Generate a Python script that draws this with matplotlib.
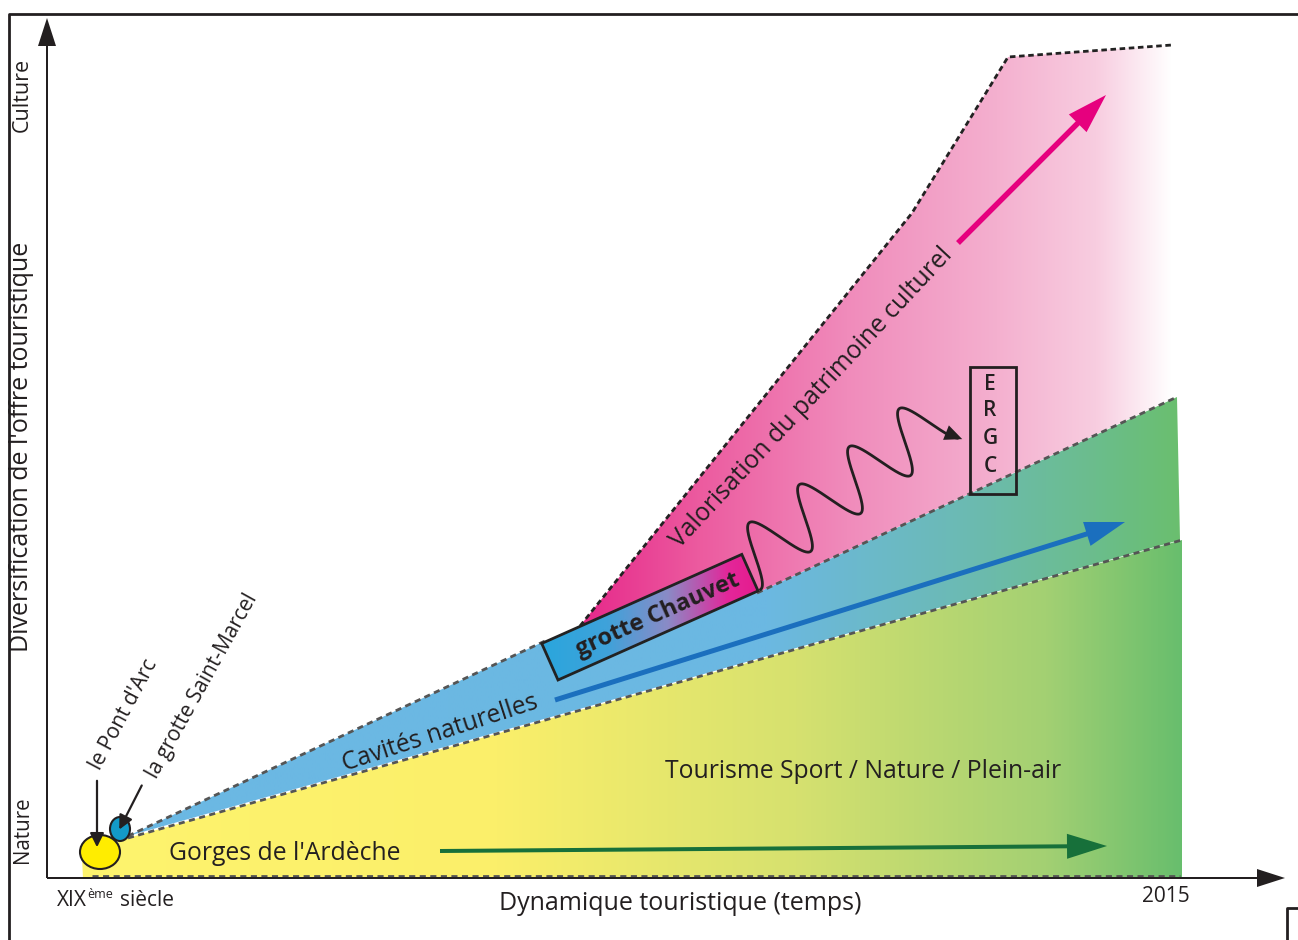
import numpy as np
import matplotlib.pyplot as plt
from matplotlib.patches import Polygon, Rectangle, Ellipse, FancyArrow
from matplotlib.colors import to_rgb

plt.rcParams['font.family'] = ['Open Sans', 'DejaVu Sans']

# --- zones (x = dynamique touristique, y = diversification) ---
nature_x = [81, 1135, 1135, 36, 35]
nature_y = [40, 338, 0, 0, 20]
cavites_x = [81, 498, 710, 1130, 1133]
cavites_y = [42, 237, 285, 481, 338]
culture_x = [533, 865, 961, 1125, 1125, 710]
culture_y = [252, 665, 821, 833, 479, 285]

# zone limits (dashed lines)
lower_x, lower_y = [81, 1135], [40, 338]
middle1_x, middle1_y = [81, 498], [42, 237]
middle2_x, middle2_y = [710, 1130], [285, 481]
upper_x, upper_y = [533, 865, 961, 1125], [252, 665, 821, 833]
base_x, base_y = [45, 1133], [2, 2]

# colour stops along time axis
nature_stops = [(35, '#fef46e'), (450, '#fbef6a'), (750, '#d6e16f'), (1000, '#a3d073'), (1135, '#68be6d')]
cavites_stops = [(81, '#6bb8e4'), (720, '#6bb8e2'), (900, '#6cbab8'), (1050, '#6bbd8c'), (1135, '#6abf6e')]
culture_stops = [(533, '#e6288a'), (650, '#ec5a9f'), (800, '#f08bbb'), (950, '#f4b0cf'), (1050, '#f8cde0'), (1125, '#ffffff')]
chauvet_stops = [(495, '#2aa6dd'), (560, '#3fa2da'), (620, '#8a8bc6'), (680, '#e3279a'), (713, '#e61a8c')]

# trends (start, end)
blue_trend = [(508, 178), (1078, 356)]
pink_trend = [(911, 635), (1059, 783)]
green_trend = [(393, 27), (1060, 32)]


def gradient_fill(ax, xs, ys, stops, z=1):
    poly = Polygon(np.column_stack([xs, ys]), closed=True, fc='none', ec='none')
    ax.add_patch(poly)
    x0, x1 = min(xs), max(xs)
    gx = np.linspace(x0, x1, 500)
    sx = [s[0] for s in stops]
    cols = np.array([to_rgb(s[1]) for s in stops])
    img = np.stack([np.interp(gx, sx, cols[:, k]) for k in range(3)], axis=-1)[None, :, :]
    im = ax.imshow(img, extent=[x0, x1, min(ys), max(ys)], origin='lower',
                   aspect='auto', interpolation='bilinear', zorder=z)
    im.set_clip_path(poly)


fig = plt.figure(figsize=(12.98, 9.40), dpi=100)
ax = fig.add_axes([0, 0, 1, 1])

gradient_fill(ax, nature_x, nature_y, nature_stops)
gradient_fill(ax, cavites_x, cavites_y, cavites_stops)
gradient_fill(ax, culture_x, culture_y, culture_stops)

# dashed limits
dash = dict(color='#555555', lw=2, ls=(0, (2.2, 1.6)), zorder=3)
ax.plot(lower_x, lower_y, **dash)
ax.plot(middle1_x, middle1_y, **dash)
ax.plot(middle2_x, middle2_y, **dash)
ax.plot(base_x, base_y, **dash)
ax.plot(upper_x, upper_y, color='#222222', lw=2, ls=(0, (2, 1.3)), zorder=3)

# grotte Chauvet box (rotated rectangle)
ll = np.array([511, 198])
ang = np.deg2rad(24)
u = np.array([np.cos(ang), np.sin(ang)]) * 219
v = np.array([-np.sin(ang), np.cos(ang)]) * 40
corners = np.array([ll, ll + u, ll + u + v, ll + v])
gradient_fill(ax, corners[:, 0], corners[:, 1], chauvet_stops, z=5)
ax.add_patch(Polygon(corners, closed=True, fc='none', ec='#222222', lw=2, zorder=6))
ax.text(611, 263, 'grotte Chauvet', rotation=24, rotation_mode='anchor', ha='center', va='center',
        fontsize=17, fontweight='bold', color='#231f20', zorder=7)

# trend arrows
for (p0, p1), c, w in [(blue_trend, '#1b6fbe', 5), (pink_trend, '#e6007e', 5.5), (green_trend, '#17703a', 4)]:
    ax.add_patch(FancyArrow(p0[0], p0[1], p1[0] - p0[0], p1[1] - p0[1], width=w, head_width=25,
                            head_length=40, length_includes_head=True, color=c, lw=0, zorder=4))

# wave towards ERGC
lam, amp = 62.8, 30
d = np.array([0.796, 0.605])
n = np.array([-0.605, 0.796])
mid = np.array([733, 341])
s = np.linspace(-0.75 * lam, 3.2 * lam, 600)
wave = mid + s[:, None] * d + (-amp * np.sin(2 * np.pi * s / lam))[:, None] * n
ax.plot(wave[:, 0], wave[:, 1], color='#231f20', lw=2, zorder=6)
ax.annotate('', xy=wave[-1] + np.array([5, -1]), xytext=wave[-20],
            arrowprops=dict(arrowstyle='-|>,head_length=0.9,head_width=0.4', color='#231f20',
                            lw=0, mutation_scale=14, shrinkA=0, shrinkB=0), zorder=6)

# ERGC box
ax.add_patch(Rectangle((923, 384), 46, 127, fc='none', ec='#231f20', lw=2, zorder=6))
for letter, yy in zip('ERGC', [494, 467, 440, 412]):
    ax.text(943, yy, letter, ha='center', va='center', fontsize=15, fontweight='semibold',
            color='#231f20', zorder=7)

# sites
ax.add_patch(Ellipse((53, 26), 40, 34, fc='#ffed00', ec='#231f20', lw=1.5, zorder=6))
ax.add_patch(Ellipse((73, 49), 20, 24, fc='#139ac8', ec='#231f20', lw=1.5, zorder=6))
ax.annotate('', xy=(50, 28), xytext=(50, 100),
            arrowprops=dict(arrowstyle='-|>,head_length=0.6,head_width=0.3', color='#231f20',
                            lw=1.6, mutation_scale=14), zorder=7)
ax.annotate('', xy=(71, 46), xytext=(96, 95),
            arrowprops=dict(arrowstyle='-|>,head_length=0.6,head_width=0.3', color='#231f20',
                            lw=1.6, mutation_scale=14), zorder=7)

# labels
tk = dict(color='#231f20', ha='center', va='center', rotation_mode='anchor')
ax.text(765, 480, 'Valorisation du patrimoine culturel', rotation=47, fontsize=17.8, **tk)
ax.text(393, 145, 'Cavités naturelles', rotation=18, fontsize=17.8, **tk)
ax.text(816, 107, 'Tourisme Sport / Nature / Plein-air', fontsize=17.8, **tk)
ax.text(238, 25, "Gorges de l'Ardèche", fontsize=17.8, **tk)
ax.text(77, 163, "le Pont d'Arc", rotation=62, fontsize=15, **tk)
ax.text(155, 192, 'la grotte Saint-Marcel', rotation=61, fontsize=15, **tk)
ax.text(-25, 783, 'Culture', rotation=90, fontsize=15.5, **tk)
ax.text(-25, 431, "Diversification de l'offre touristique", rotation=90, fontsize=18, **tk)
ax.text(-25, 48, 'Nature', rotation=90, fontsize=14.8, **tk)
ax.text(633, -26, 'Dynamique touristique (temps)', fontsize=18, **tk)
ax.text(1119, -19, '2015', fontsize=15, **tk)
ax.text(10, -23, 'XIX', fontsize=15, color='#231f20', ha='left', va='center')
ax.text(40, -17, 'ème', fontsize=9, color='#231f20', ha='left', va='center')
ax.text(73, -23, 'siècle', fontsize=15, color='#231f20', ha='left', va='center')

# axes arrows
ax.add_patch(FancyArrow(0, 0, 0, 860, width=2, head_width=18, head_length=28,
                        length_includes_head=True, color='#231f20', lw=0, zorder=8))
ax.add_patch(FancyArrow(0, 0, 1238, 0, width=2, head_width=18, head_length=28,
                        length_includes_head=True, color='#231f20', lw=0, zorder=8))

# frame
ax.plot([-38, -38, 1251], [-62, 864, 864], color='#231f20', lw=2, zorder=8)
ax.plot([1251, 1240, 1240], [-30, -30, -62], color='#231f20', lw=2, zorder=8)

ax.set_xlim(-47, 1251)
ax.set_ylim(-62, 878)
ax.axis('off')
fig.savefig('out.png', dpi=100)
